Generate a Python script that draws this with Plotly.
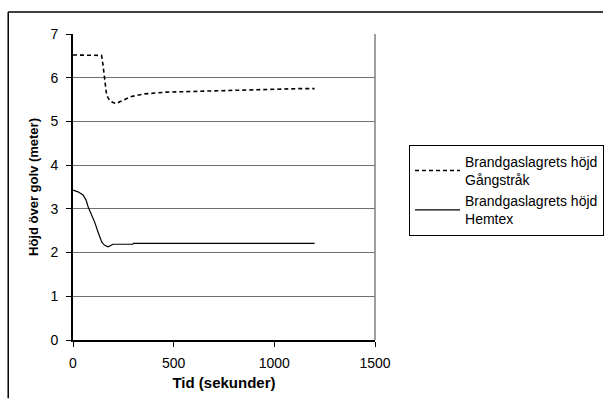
import plotly.graph_objects as go

# Gångstråk (dashed)
t_gang = [0, 60, 120, 142, 149, 158, 167, 180, 191, 205, 216, 232, 248, 270, 290, 320, 356, 410, 463, 550, 629, 718, 800, 900, 975, 1050, 1120, 1200]
h_gang = [6.52, 6.52, 6.52, 6.51, 6.29, 5.88, 5.60, 5.50, 5.45, 5.42, 5.41, 5.45, 5.49, 5.53, 5.57, 5.60, 5.63, 5.65, 5.67, 5.68, 5.69, 5.70, 5.71, 5.72, 5.74, 5.75, 5.75, 5.75]

# Hemtex (solid)
t_hem = [0, 25, 50, 65, 75, 90, 109, 122, 134, 142, 150, 160, 174, 186, 199, 250, 297, 300, 400, 600, 800, 1000, 1200]
h_hem = [3.43, 3.39, 3.32, 3.20, 3.05, 2.90, 2.68, 2.50, 2.33, 2.25, 2.20, 2.16, 2.13, 2.16, 2.19, 2.19, 2.19, 2.21, 2.21, 2.21, 2.21, 2.21, 2.21]

legend_names = ["Brandgaslagrets höjd<br>Gångstråk", "Brandgaslagrets höjd<br>Hemtex"]
x_ticks = [0, 500, 1000, 1500]
y_ticks = [0, 1, 2, 3, 4, 5, 6, 7]

fig = go.Figure()
fig.add_trace(go.Scatter(x=t_gang, y=h_gang, mode="lines", name=legend_names[0],
                         line=dict(color="black", width=1.6, dash="4px,3px")))
fig.add_trace(go.Scatter(x=t_hem, y=h_hem, mode="lines", name=legend_names[1],
                         line=dict(color="black", width=1.2)))

font = "Liberation Sans, Arial, sans-serif"
fig.update_layout(
    width=615, height=401,
    margin=dict(l=73, r=239, t=34, b=61),
    paper_bgcolor="white", plot_bgcolor="white",
    font=dict(family=font, color="black", size=13),
    showlegend=True,
    legend=dict(x=1.109, y=0.638, xanchor="left", yanchor="top",
                bordercolor="black", borderwidth=1, bgcolor="white",
                itemwidth=45,
                font=dict(size=14, family=font), tracegroupgap=0),
    xaxis=dict(range=[0, 1500], tickvals=x_ticks, showgrid=False, zeroline=False,
               showline=True, linecolor="black", linewidth=2,
               ticks="outside", ticklen=5, tickcolor="black",
               tickfont=dict(size=14), ticklabelstandoff=4,
               title=dict(text="<b>Tid (sekunder)</b>", font=dict(size=15), standoff=8)),
    yaxis=dict(range=[0, 7], tickvals=y_ticks, showgrid=True, gridcolor="#707070", gridwidth=1,
               zeroline=False, showline=True, linecolor="black", linewidth=2,
               ticks="outside", ticklen=5, tickcolor="black",
               tickfont=dict(size=14), ticklabelstandoff=5,
               title=dict(text="<b>Höjd över golv (meter)</b>", font=dict(size=13), standoff=9)),
    shapes=[
        dict(type="line", xref="paper", yref="paper", x0=1, x1=1, y0=0, y1=1,
             line=dict(color="#808080", width=1.5)),
        dict(type="line", xref="paper", yref="paper", x0=-0.2145, x1=-0.2145, y0=-0.19, y1=1.0719,
             line=dict(color="black", width=1.5)),
        dict(type="line", xref="paper", yref="paper", x0=-0.2145, x1=1.755, y0=1.0719, y1=1.0719,
             line=dict(color="black", width=1.5)),
    ],
)

fig.write_html("out.html", config={"displayModeBar": False})
